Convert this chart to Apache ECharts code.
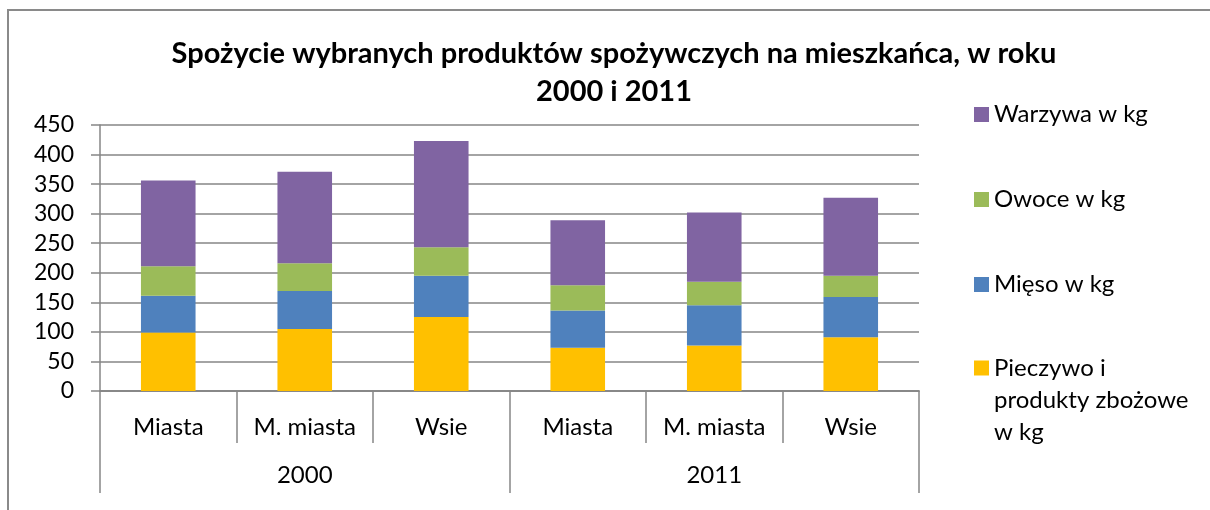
<!DOCTYPE html>
<html>
<head>
<meta charset="utf-8">
<script src="https://cdn.jsdelivr.net/npm/echarts@6/dist/echarts.min.js"></script>
<style>
    html, body { margin: 0; padding: 0; background: #fff; overflow: hidden; }
    #chart { width: 1210px; height: 510px; }
</style>
</head>
<body>
<div id="chart"></div>
<script>
const categories = ['Miasta', 'M. miasta', 'Wsie', 'Miasta', 'M. miasta', 'Wsie'];
const years = ['2000', '2011'];
const pieczywo = [99, 105, 125, 73, 77, 91];
const mieso = [62, 64, 70, 63, 68, 68];
const owoce = [50, 47, 48, 43, 40, 36];
const warzywa = [145, 155, 180, 110, 117, 132];
const yTicks = [0, 450, 50]; // min, max, step

const font = 'Lato';
const grey = '#868686';

let chartDom = document.getElementById('chart');
let myChart = echarts.init(chartDom);

const makeSeries = (name, data, color) => ({
    name,
    type: 'bar',
    stack: 'total',
    data,
    color,
    barWidth: '40%',
    xAxisIndex: 0,
});

const option = {
    animation: false,
    title: {
        text: 'Spożycie wybranych produktów spożywczych na mieszkańca, w roku\n2000 i 2011',
        left: 614,
        top: 35,
        padding: 0,
        textAlign: 'center',
        textStyle: {
            fontFamily: font,
            fontWeight: 'bold',
            fontSize: 29,
            lineHeight: 38,
            color: '#000',
        },
    },
    graphic: [{
        type: 'rect',
        shape: {x: 8, y: 10, width: 1400, height: 700},
        style: {fill: 'none', stroke: '#8a8a8a', lineWidth: 2},
        silent: true,
    }],
    legend: [
        {
            orient: 'vertical',
            left: 974,
            top: 97.5,
            padding: 0,
            itemWidth: 15,
            itemHeight: 15,
            itemGap: 51,
            icon: 'rect',
            data: ['Warzywa w kg', 'Owoce w kg', 'Mięso w kg'],
            textStyle: {fontFamily: font, fontSize: 24, lineHeight: 34, color: '#000'},
        },
        {
            orient: 'vertical',
            left: 974,
            top: 288,
            padding: 0,
            itemWidth: 15,
            itemHeight: 15,
            icon: 'rect',
            data: ['Pieczywo i produkty zbożowe w kg'],
            // two blank lines first so the icon sits next to the first line
            formatter: () => ' \n \nPieczywo i\nprodukty zbożowe\nw kg',
            textStyle: {fontFamily: font, fontSize: 24, lineHeight: 32, color: '#000'},
        },
    ],
    grid: {
        left: 100,
        right: 291,
        top: 125,
        bottom: 119,
    },
    xAxis: [
        {
            type: 'category',
            data: categories,
            position: 'bottom',
            axisLine: {show: true, lineStyle: {color: grey, width: 1.5}},
            axisTick: {show: true, interval: 0, length: 52, lineStyle: {color: grey, width: 1.5}},
            axisLabel: {interval: 0, margin: 24, fontFamily: font, fontSize: 24, color: '#000'},
        },
        {
            type: 'category',
            data: years,
            position: 'bottom',
            axisLine: {show: true, lineStyle: {color: grey, width: 1.5}},
            axisTick: {show: true, interval: 0, length: 102, lineStyle: {color: grey, width: 1.5}},
            axisLabel: {interval: 0, margin: 72, fontFamily: font, fontSize: 24, color: '#000'},
        },
    ],
    yAxis: {
        type: 'value',
        min: yTicks[0],
        max: yTicks[1],
        interval: yTicks[2],
        axisLine: {show: true, lineStyle: {color: grey, width: 1.5}},
        axisTick: {show: true, length: 9, lineStyle: {color: grey, width: 1.5}},
        splitLine: {show: true, lineStyle: {color: grey, width: 1.5}},
        axisLabel: {margin: 26, fontFamily: font, fontSize: 23, color: '#000'},
    },
    series: [
        makeSeries('Pieczywo i produkty zbożowe w kg', pieczywo, '#FFC000'),
        makeSeries('Mięso w kg', mieso, '#4F81BD'),
        makeSeries('Owoce w kg', owoce, '#9BBB59'),
        makeSeries('Warzywa w kg', warzywa, '#8064A2'),
    ],
};

myChart.setOption(option);
</script>
</body>
</html>
